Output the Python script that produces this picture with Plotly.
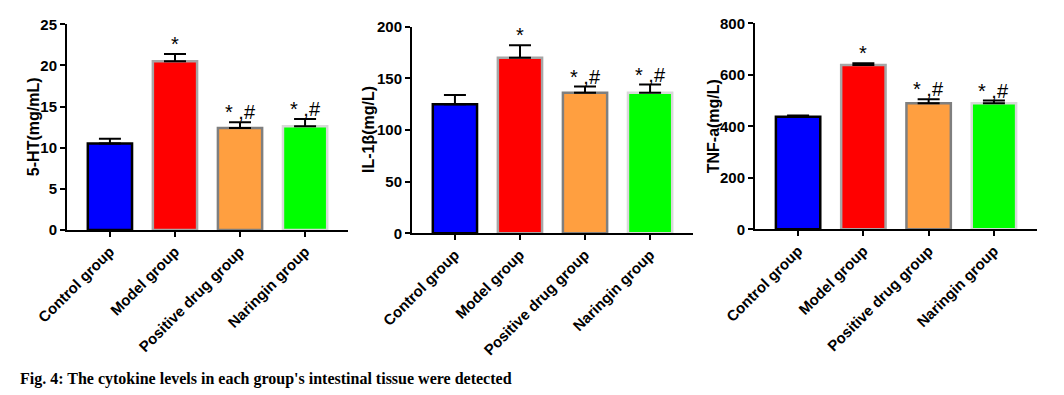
import plotly.graph_objects as go

categories = ["Control group", "Model group", "Positive drug group", "Naringin group"]
bar_colors = ["#0000ff", "#ff0000", "#ff9f40", "#00ff00"]
edge_colors = ["#000000", "#a6a6a6", "#7f7f7f", "#d9d9d9"]

ht5_mean = [10.5, 20.5, 12.4, 12.6]
ht5_err = [0.6, 0.9, 0.7, 0.9]
il1b_mean = [125, 170, 136, 136]
il1b_err = [9, 12, 6, 8]
tnf_mean = [437, 638, 490, 490]
tnf_err = [5, 7, 15, 10]

marks = ["", "*", "* ,#", "* ,#"]

OFF = 8  # page body margin offset

panels = [
    dict(mean=ht5_mean, err=ht5_err, title="5-HT(mg/mL)", rng=[0, 25], dtick=5,
         xpx=(67, 348), ypx=(24.3, 230), title_x=33),
    dict(mean=il1b_mean, err=il1b_err, title="IL-1β(mg/L)", rng=[0, 200], dtick=50,
         xpx=(412, 693), ypx=(26.7, 233.3), title_x=369),
    dict(mean=tnf_mean, err=tnf_err, title="TNF-a(mg/L)", rng=[0, 800], dtick=200,
         xpx=(755, 1037), ypx=(23.3, 229.3), title_x=713),
]

W, H = 1064, 395
fig = go.Figure()
font_family = "Liberation Sans, Arial, sans-serif"
annotations = []

for i, p in enumerate(panels):
    n = "" if i == 0 else str(i + 1)
    xref = "x" + n
    yref = "y" + n
    fig.add_trace(go.Bar(
        x=categories, y=p["mean"], xaxis=xref, yaxis=yref,
        width=0.68,
        marker=dict(color=bar_colors, line=dict(color=edge_colors, width=2.5)),
        error_y=dict(type="data", array=p["err"], symmetric=False,
                     arrayminus=[0] * 4, color="#000000", thickness=2, width=11),
        showlegend=False, hoverinfo="skip",
    ))
    xdom = [(p["xpx"][0] - OFF) / W, (p["xpx"][1] - OFF) / W]
    ydom = [1 - (p["ypx"][1] - OFF) / H, 1 - (p["ypx"][0] - OFF) / H]
    fig.layout["xaxis" + n] = dict(
        domain=xdom, anchor=yref, range=[-0.66, 3.66], automargin=False,
        showline=True, linecolor="black", linewidth=2,
        ticks="outside", ticklen=5, tickwidth=2, tickcolor="black",
        tickangle=-45, showgrid=False, zeroline=False,
        tickfont=dict(family=font_family, size=15, color="black", weight="bold"),
    )
    fig.layout["yaxis" + n] = dict(
        domain=ydom, anchor=xref, range=p["rng"], dtick=p["dtick"], automargin=False,
        showline=True, linecolor="black", linewidth=2,
        ticks="outside", ticklen=5, tickwidth=2, tickcolor="black",
        showgrid=False, zeroline=False,
        tickfont=dict(family=font_family, size=15, color="black", weight="bold"),
    )
    annotations.append(dict(
        text=p["title"], xref="paper", yref="paper",
        x=(p["title_x"] - OFF) / W, y=1 - ((p["ypx"][0] + p["ypx"][1]) / 2 - OFF) / H,
        textangle=-90, showarrow=False, xanchor="center", yanchor="middle",
        font=dict(family=font_family, size=16, color="black", weight="bold"),
    ))
    for j, c in enumerate(categories):
        if marks[j]:
            annotations.append(dict(
                text=marks[j], xref=xref, yref=yref,
                x=c, y=p["mean"][j] + p["err"][j],
                yanchor="bottom", xanchor="center", yshift=-3,
                showarrow=False,
                font=dict(family=font_family, size=20, color="black"),
            ))

annotations.append(dict(
    text="<b>Fig. 4: The cytokine levels in each group's intestinal tissue were detected</b>",
    xref="paper", yref="paper", x=(18 - OFF) / W, y=1 - (379 - OFF) / H,
    xanchor="left", yanchor="middle", showarrow=False,
    font=dict(family="Liberation Serif, Times New Roman, serif", size=16, color="black"),
))

fig.update_layout(
    width=W, height=H, margin=dict(l=0, r=0, t=0, b=0, pad=0, autoexpand=False),
    paper_bgcolor="white", plot_bgcolor="white",
    bargap=0.3, annotations=annotations,
)

fig.write_html("out.html")
